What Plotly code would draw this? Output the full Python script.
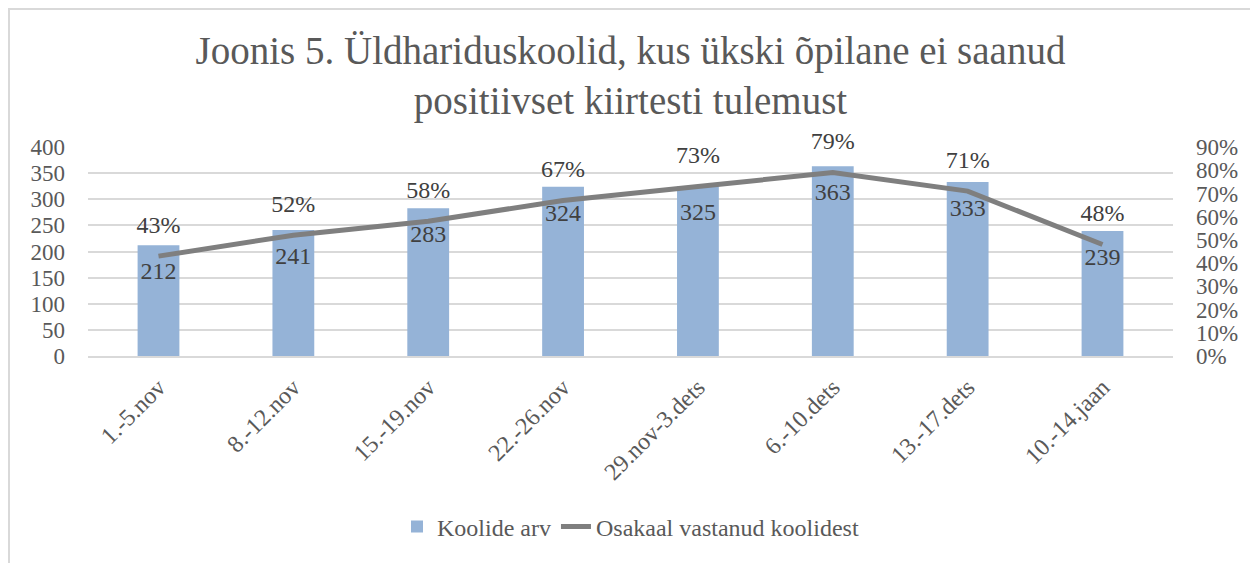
import plotly.graph_objects as go

categories = ["1.-5.nov", "8.-12.nov", "15.-19.nov", "22.-26.nov",
              "29.nov-3.dets", "6.-10.dets", "13.-17.dets", "10.-14.jaan"]
koolide_arv = [212, 241, 283, 324, 325, 363, 333, 239]
osakaal = [0.43, 0.52, 0.58, 0.67, 0.73, 0.79, 0.71, 0.48]

FONT = "Liberation Serif"
GRAY = "#595959"
LABEL = "#404040"

W, H = 1250, 555
ML, MR, MT, MB = 80, 85, 139, 207
PW, PH = W - ML - MR, H - MT - MB

fig = go.Figure()
fig.add_trace(go.Bar(
    x=categories, y=koolide_arv, name="Koolide arv",
    marker=dict(color="#95B3D7", line=dict(width=0)),
    width=0.31, hoverinfo="x+y",
))
fig.add_trace(go.Scatter(
    x=categories, y=koolide_arv, mode="markers+text",
    marker=dict(size=24, opacity=0),
    text=[str(v) for v in koolide_arv],
    textposition="bottom center",
    textfont=dict(family=FONT, size=24, color=LABEL),
    cliponaxis=False, showlegend=False, hoverinfo="skip",
))
fig.add_trace(go.Scatter(
    x=categories, y=osakaal, name="Osakaal vastanud koolidest",
    yaxis="y2", mode="lines",
    line=dict(color="#7F7F7F", width=5),
))
fig.add_trace(go.Scatter(
    x=categories, y=osakaal, yaxis="y2", mode="markers+text",
    marker=dict(size=26, opacity=0),
    text=[f"{round(v*100)}%" for v in osakaal],
    textposition="top center",
    textfont=dict(family=FONT, size=24, color=LABEL),
    cliponaxis=False, showlegend=False, hoverinfo="skip",
))

fig.update_layout(
    width=W, height=H,
    margin=dict(l=ML, r=MR, t=MT, b=MB, autoexpand=False),
    paper_bgcolor="white", plot_bgcolor="white",
    font=dict(family=FONT, color=GRAY),
    title=dict(
        text="Joonis 5. Üldhariduskoolid, kus ükski õpilane ei saanud<br>positiivset kiirtesti tulemust",
        x=0.5, xanchor="center", xref="paper",
        y=0.90, yanchor="top", yref="container",
        font=dict(family=FONT, size=39, color=GRAY),
    ),
    xaxis=dict(
        tickangle=-45, tickfont=dict(size=24, color=GRAY),
        showgrid=False, showline=True, linecolor="#D9D9D9", linewidth=1.5,
        ticks="", ticklen=0, automargin=False, ticklabelstandoff=6,
    ),
    yaxis=dict(
        range=[0, 400], dtick=50, tickfont=dict(size=23, color=GRAY),
        showgrid=True, gridcolor="#D9D9D9", gridwidth=1.5,
        zeroline=False, showline=False, ticks="", ticklabelstandoff=22,
        automargin=False,
    ),
    yaxis2=dict(
        overlaying="y", side="right", range=[0, 0.9], dtick=0.1,
        tickformat=".0%", tickfont=dict(size=23, color=GRAY),
        showgrid=False, zeroline=False, showline=False, ticks="",
        ticklabelstandoff=22, automargin=False,
    ),
    legend=dict(
        orientation="h", x=0.5, xanchor="center",
        y=0.065, yanchor="middle", yref="container",
        font=dict(size=24, color=GRAY),
        traceorder="normal",
    ),
    bargap=0.69,
    shapes=[dict(
        type="rect", xref="paper", yref="paper",
        x0=(1 - ML) / PW, x1=1.3, y0=-3, y1=1 + (MT - 1) / PH,
        line=dict(color="#D9D9D9", width=2), fillcolor="rgba(0,0,0,0)",
        layer="below",
    )],
)

fig.write_html("out.html")
